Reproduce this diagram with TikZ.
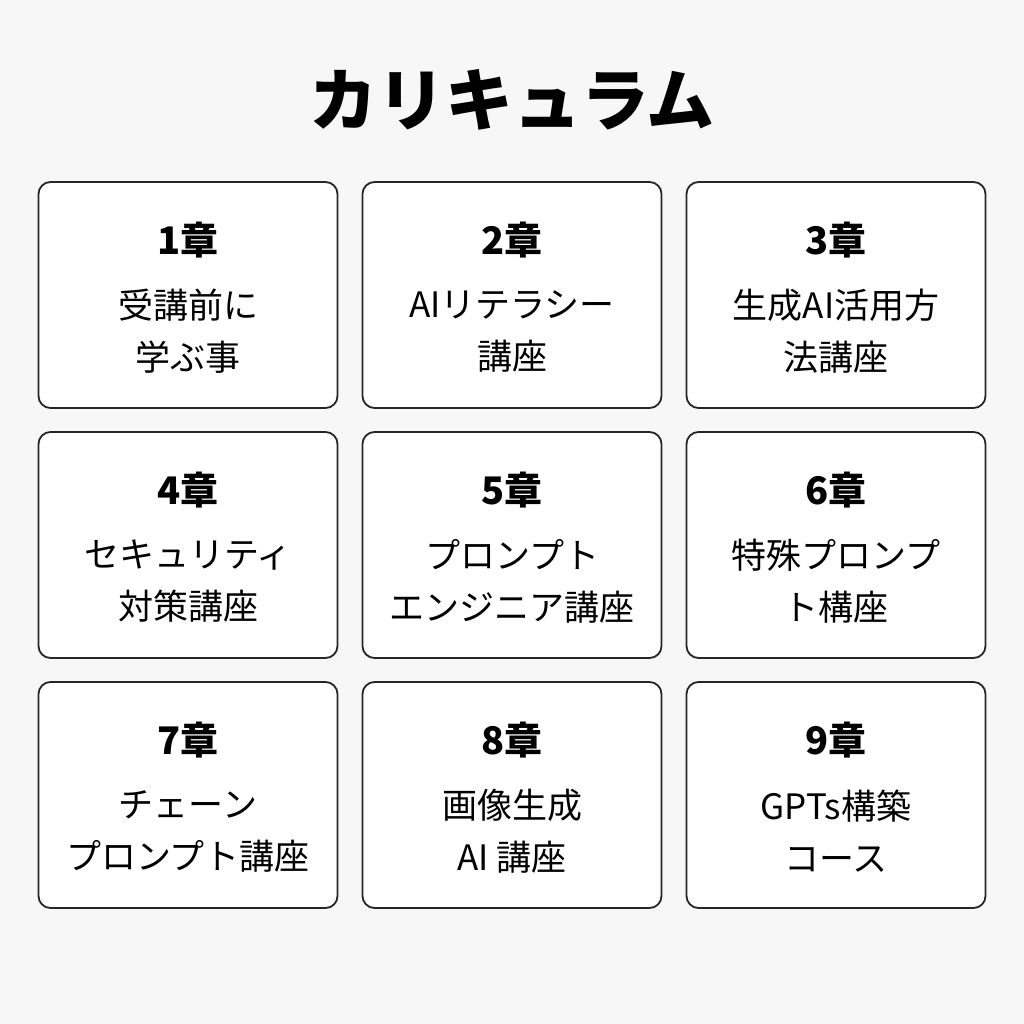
\documentclass[tikz,border=0pt]{standalone}
\usepackage{fontspec}
\setmainfont{Noto Sans CJK JP}
\newfontfamily\jpb{Noto Sans CJK JP}[FakeBold=1.5]
\begin{document}
\begin{tikzpicture}[x=1pt,y=-1pt,
  card/.style={draw=black!85,line width=1.8pt,fill=white,rounded corners=12pt},
  chap/.style={font=\fontsize{38}{40}\selectfont\bfseries,anchor=center},
  body/.style={font=\fontsize{35}{52}\selectfont,align=center,anchor=center}]
\fill[black!3] (0,0) rectangle (1024,1024);
\useasboundingbox (0,0) rectangle (1024,1024);
\node (title) at (512,100) {\fontsize{68}{70}\selectfont\bfseries カリキュラム};
\foreach \i/\c/\t [count=\n from 0] in {
 1/1章/{受講前に\\学ぶ事},
 2/2章/{AIリテラシー\\講座},
 3/3章/{生成AI活用方\\法講座},
 4/4章/{セキュリティ\\対策講座},
 5/5章/{プロンプト\\エンジニア講座},
 6/6章/{特殊プロンプ\\ト構座},
 7/7章/{チェーン\\プロンプト講座},
 8/8章/{画像生成\\AI 講座},
 9/9章/{GPTs構築\\コース}}{
 \pgfmathsetmacro{\cx}{188+324*mod(\n,3)}
 \pgfmathsetmacro{\cy}{295+250*floor(\n/3)}
 \node[card,minimum width=299pt,minimum height=226pt] (box\i) at (\cx,\cy) {};
 \node[chap] (chap\i) at (\cx,\cy-55) {\c};
 \node[body] (text\i) at (\cx,\cy+36) {\t};
}
\end{tikzpicture}
\end{document}
